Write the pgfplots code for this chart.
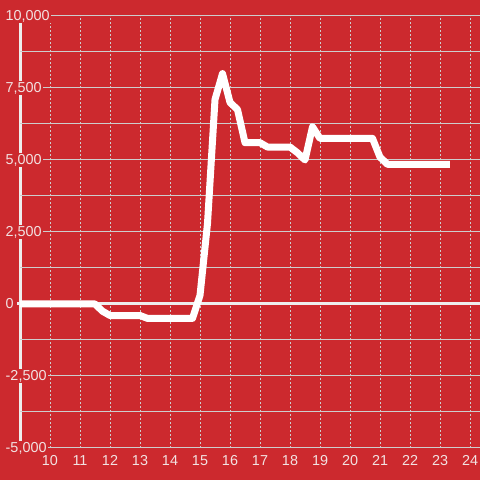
\documentclass[border=0pt]{standalone}
\usepackage{fontspec}
\setmainfont{Liberation Sans}
\usepackage{pgfplots}
\pgfplotsset{compat=1.18}
\definecolor{bgred}{RGB}{204,41,46}
\definecolor{gridc}{RGB}{205,205,205}
\definecolor{lbl}{RGB}{242,226,226}
\definecolor{axw}{RGB}{238,238,238}

\begin{document}
\begin{tikzpicture}[x=1bp,y=1bp]
\path[use as bounding box] (0,0) rectangle (480,480);
\fill[bgred] (0,0) rectangle (480,480);
% left axis bar, partly hidden by the tick labels
\draw[axw, line width=3bp] (20.5,32) -- (20.5,464);
\begin{axis}[
    at={(20bp,32bp)}, anchor=south west,
    scale only axis, width=460bp, height=432bp,
    xmin=9, xmax=24.3333, ymin=-5000, ymax=10000,
    clip=false,
    axis line style={draw=none},
    xtick={10,...,24},
    ytick={-5000,-2500,...,10000},
    minor ytick={-3750,-1250,1250,3750,6250,8750},
    major tick length=0, minor tick length=0,
    xmajorgrids, ymajorgrids, yminorgrids,
    x grid style={gridc, line width=0.9bp, dash pattern=on 2bp off 2bp},
    y grid style={gridc, line width=1bp},
    scaled y ticks=false,
    /pgf/number format/assume math mode=true,
    /pgf/number format/1000 sep={,},
    tick label style={font=\fontsize{14.4bp}{17bp}\selectfont, text=lbl},
    yticklabel style={anchor=west, xshift=-16bp, fill=bgred, inner sep=1.5bp},
    xticklabel style={inner sep=0pt, yshift=-7bp},
]
\draw[axw, line width=3bp] (axis cs:8.9,0) -- (axis cs:24.3333,0);
\addplot[white, line width=7bp, line join=round] coordinates {
    (9,0) (11.5,0) (11.75,-250) (12,-400) (13,-400) (13.25,-500)
    (14.75,-500) (15,300) (15.25,2800) (15.5,7100) (15.75,8000)
    (16,7000) (16.25,6750) (16.5,5600) (17,5600) (17.25,5450)
    (18,5450) (18.25,5250) (18.5,5000) (18.75,6150) (19,5750)
    (20.75,5750) (21,5100) (21.25,4850) (23.33,4850)
};
\end{axis}
\end{tikzpicture}
\end{document}
